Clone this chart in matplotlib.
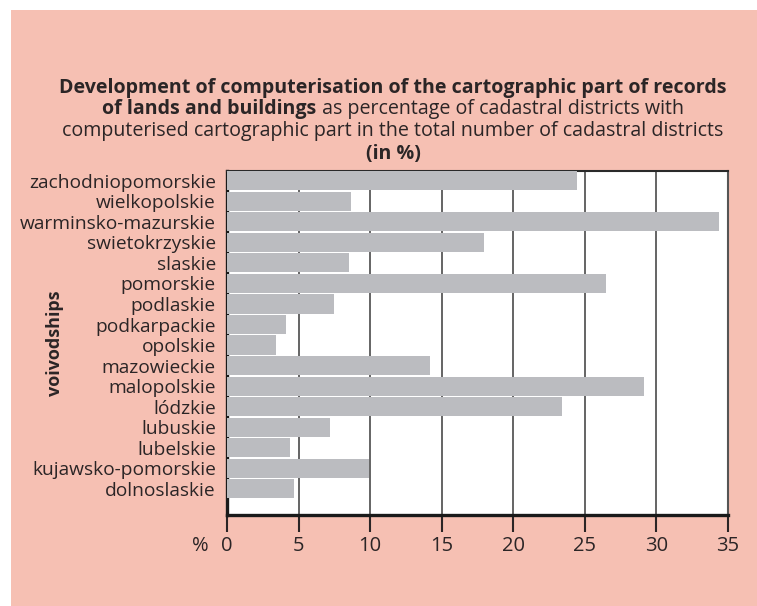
import matplotlib
matplotlib.use("Agg")
import matplotlib.pyplot as plt
from matplotlib.patches import Rectangle

# dane (kolejnosc od dolu)
voivodships = ["dolnoslaskie", "kujawsko-pomorskie", "lubelskie", "lubuskie",
               "lódzkie", "malopolskie", "mazowieckie", "opolskie",
               "podkarpackie", "podlaskie", "pomorskie", "slaskie",
               "swietokrzyskie", "warminsko-mazurskie", "wielkopolskie",
               "zachodniopomorskie"]
values = [4.66, 9.95, 4.38, 7.2, 23.41, 29.12, 14.17, 3.42,
          4.1, 7.48, 26.51, 8.53, 17.96, 34.36, 8.64, 24.44]
xticks = [0, 5, 10, 15, 20, 25, 30, 35]

pink = "#f6c0b3"
bar_col = "#bbbcc0"
txt = "#2b2526"
plt.rcParams['font.family'] = ['Open Sans', 'DejaVu Sans']

fig = plt.figure(figsize=(7.57, 6.06), dpi=100)
fig.patch.set_facecolor("white")
fig.patches.append(Rectangle((11 / 757, 0), 1 - 11 / 757, 1 - 10 / 606,
                             transform=fig.transFigure, facecolor=pink,
                             edgecolor="none", zorder=-10))

ax = fig.add_axes([227 / 757, 1 - 515 / 606, (728 - 227) / 757, (515 - 171) / 606])
ax.set_facecolor("white")
y = list(range(len(voivodships)))
ax.barh(y, values, height=0.93, color=bar_col, zorder=3)
ax.set_xlim(0, 35)
ax.set_ylim(-1.27, 15.47)
ax.set_xticks(xticks)
ax.set_yticks(y)
ax.set_yticklabels(voivodships)
ax.xaxis.grid(True, color="#3a3a3a", linewidth=1.1, zorder=1)
ax.tick_params(axis="x", length=12, width=1.5, color=txt, labelsize=14.5,
               labelcolor=txt, pad=3)
ax.tick_params(axis="y", length=0, labelsize=13.8, labelcolor=txt, pad=8)
for s in ["left", "bottom"]:
    ax.spines[s].set_linewidth(2.4)
    ax.spines[s].set_color("#1a1a1a")
ax.spines["top"].set_linewidth(1.5)
ax.spines["top"].set_color("#2a2a2a")
ax.spines["right"].set_linewidth(1.5)
ax.spines["right"].set_color("#555555")

fig.text(200 / 757, 1 - 546 / 606, "%", fontsize=14.5, color=txt,
         ha="center", va="center")
fig.text(55 / 757, 1 - 343 / 606, "voivodships", fontsize=13, color=txt,
         fontweight="bold", rotation=90, ha="center", va="center")

# tytul
cx = 393 / 757
fs = 14.1
fig.text(cx, 1 - 88 / 606,
         "Development of computerisation of the cartographic part of records",
         fontsize=fs, fontweight="bold", color=txt, ha="center", va="center")
t_bold = fig.text(0, 1 - 109 / 606, "of lands and buildings", fontsize=fs,
                  fontweight="bold", color=txt, ha="left", va="center")
t_norm = fig.text(0, 1 - 109 / 606, " as percentage of cadastral districts with",
                  fontsize=fs, color=txt, ha="left", va="center")
fig.text(cx, 1 - 131 / 606,
         "computerised cartographic part in the total number of cadastral districts",
         fontsize=fs, color=txt, ha="center", va="center")
fig.text(cx, 1 - 154 / 606, "(in %)", fontsize=fs, fontweight="bold",
         color=txt, ha="center", va="center")

r = fig.canvas.get_renderer()
w1 = t_bold.get_window_extent(r).width / 757
w2 = t_norm.get_window_extent(r).width / 757
x0 = cx - (w1 + w2) / 2
t_bold.set_x(x0)
t_norm.set_x(x0 + w1)

fig.savefig("out.png", dpi=100, facecolor=fig.get_facecolor())
